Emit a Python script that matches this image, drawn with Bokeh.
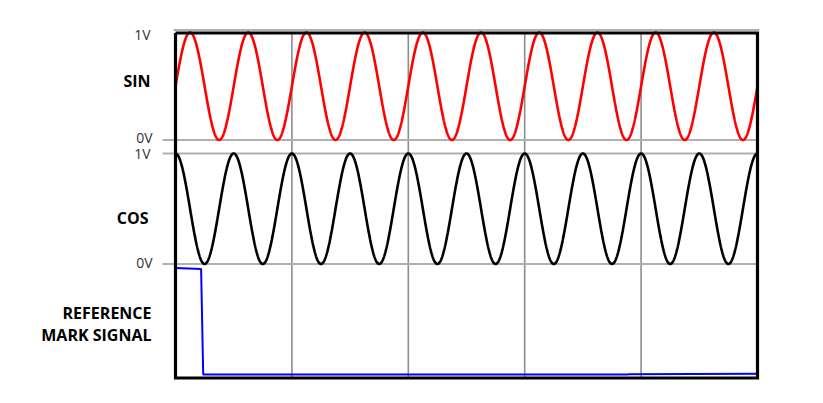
from bokeh.plotting import figure
from bokeh.models import Range1d, Label
from bokeh.embed import file_html
from bokeh.resources import INLINE
import numpy as np

# ---- data ----
cycles = 10                      # full sine/cosine periods across the screen
divisions = 5                    # vertical grid divisions
volt_ticks = ["1V", "0V"]
trace_names = ["SIN", "COS"]
ref_label = ["REFERENCE", "MARK SIGNAL"]
# reference mark signal (x in divisions, value normalised 0..1)
ref_x = [0.0, 0.22, 0.238, 3.89, 3.89, 5.0]
ref_v = [1.0, 0.99, 0.0, 0.0, 0.003, 0.006]

# ---- layout constants (y in px above the frame bottom) ----
PX_DIV = 116.4
SIN_LO, SIN_HI = 238.5, 346.0
COS_LO, COS_HI = 114.5, 225.0
REF_LO, REF_HI = 4.0, 110.5
BOX_B, BOX_T = 0.5, 345.5

W, H = 815, 395
ORIGIN = 0.0  # page offset of the canvas
x0_page, ybase_page = 175.0, 378.0
p = figure(width=W, height=H, output_backend="svg", toolbar_location=None,
           x_range=Range1d((ORIGIN - x0_page) / PX_DIV, (ORIGIN + W - x0_page) / PX_DIV),
           y_range=Range1d(ybase_page - (ORIGIN + H), ybase_page - ORIGIN),
           x_axis_location=None, y_axis_location=None, min_border=0)
p.grid.visible = False
p.outline_line_color = None
p.background_fill_color = "white"
p.border_fill_color = "white"

t = np.linspace(0, divisions, 2001)
phase = 2 * np.pi * cycles * t / divisions
sin_v = 0.5 + 0.5 * np.sin(phase)
cos_v = 0.5 + 0.5 * np.cos(phase)

# vertical grid lines
for k in range(1, divisions):
    p.line([k, k], [BOX_B, BOX_T], line_color="#8c8c8c", line_width=1.6)

# horizontal reference lines
hl = "#b0b0b0"
p.line([-0.017, 5.017], [SIN_HI + 2.5, SIN_HI + 2.5], line_color=hl, line_width=2)
p.line([-0.112, 5.0], [SIN_LO, SIN_LO], line_color=hl, line_width=2.2)
p.line([-0.112, 5.0], [COS_HI, COS_HI], line_color=hl, line_width=2.2)
p.line([-0.112, 5.0], [COS_LO, COS_LO], line_color=hl, line_width=2.2)

# traces
p.line(t, SIN_LO + sin_v * (SIN_HI - SIN_LO), line_color="#ff0000", line_width=2.6)
p.line(t, COS_LO + cos_v * (COS_HI - COS_LO), line_color="#000000", line_width=2.6)
p.line(ref_x, [REF_LO + v * (REF_HI - REF_LO) for v in ref_v],
       line_color="#0000ff", line_width=2)

# frame box
p.line([0, 5, 5, 0, 0], [BOX_T, BOX_T, BOX_B, BOX_B, BOX_T],
       line_color="black", line_width=3.2, line_join="miter")

def page_y(py):
    return ybase_page - py

def lab(txt, px, py, bold=False, size="13px", color="#333333"):
    p.add_layout(Label(x=(px - x0_page) / PX_DIV, y=page_y(py), text=txt,
                       text_align="right", text_baseline="middle",
                       text_font="Open Sans", text_font_size=size,
                       text_font_style="bold" if bold else "normal",
                       text_color=color))

lab(volt_ticks[0], 150, 33.5, size="14px")
lab(volt_ticks[1], 152, 137, size="14px")
lab(volt_ticks[0], 150, 153, size="14px")
lab(volt_ticks[1], 152, 262, size="14px")
lab(trace_names[0], 150, 80.5, bold=True, size="16px", color="black")
lab(trace_names[1], 148, 217, bold=True, size="16px", color="black")
lab(ref_label[0], 151, 312.5, bold=True, size="16px", color="black")
lab(ref_label[1], 151, 334.5, bold=True, size="16px", color="black")

open("out.html", "w").write(file_html(p, INLINE))
